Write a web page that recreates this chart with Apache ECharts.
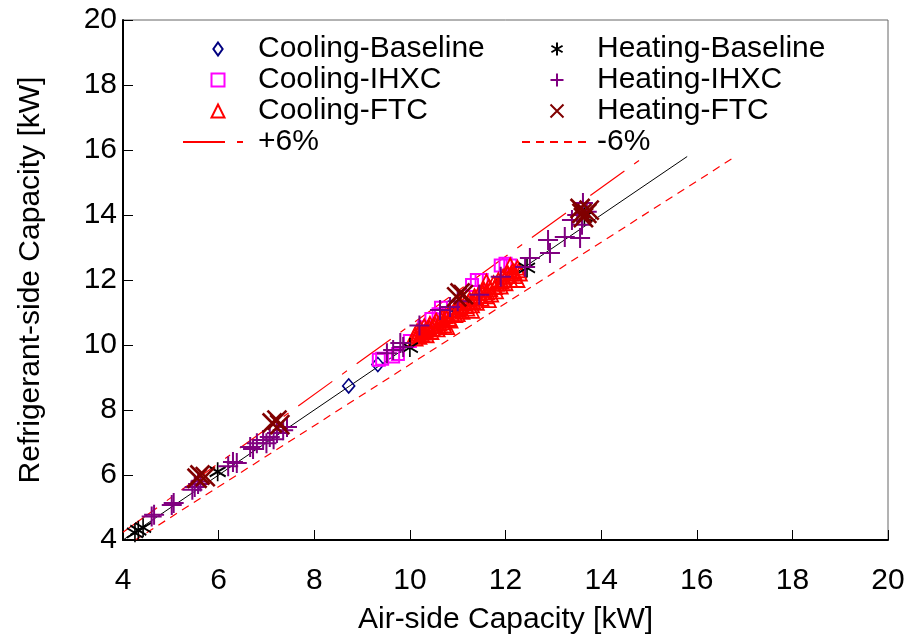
<!DOCTYPE html>
<html>
<head>
<meta charset="utf-8">
<title>Refrigerant-side vs Air-side Capacity</title>
<script src="https://cdn.jsdelivr.net/npm/echarts@6/dist/echarts.min.js"></script>
<style>
  html, body { margin: 0; padding: 0; background: #fff; }
  #chart { width: 911px; height: 641px; }
</style>
</head>
<body>
<div id="chart"></div>
<script>
// Axis range and ticks (kW)
const axisMin = 4;
const axisMax = 20;
const axisStep = 2;

// Tolerance band around the 1:1 line, in percent
const bandPct = 6;

// Extents of the reference lines (x values, kW)
const parityX = [4, 15.8];
const upperBandX = [4, 14.9];
const lowerBandX = [4, 16.8];

// Cooling mode: [air-side, refrigerant-side] kW
const coolingBaseline = [
  [8.72, 8.74], [9.33, 9.40], [10.35, 10.40], [11.0, 11.05], [11.9, 11.95]
];
const coolingIHXC = [
  [9.35, 9.55], [9.42, 9.58], [9.65, 9.65], [9.75, 9.72], [10.0, 10.12],
  [10.3, 10.55], [10.45, 10.8], [10.6, 10.95], [10.65, 11.15], [11.3, 11.85],
  [11.4, 12.0], [11.5, 12.0], [11.9, 12.45], [12.0, 12.5], [12.1, 12.45]
];
const coolingFTC = [
  [10.10, 10.30], [10.15, 10.42], [10.20, 10.25], [10.22, 10.50], [10.28, 10.38],
  [10.30, 10.58], [10.35, 10.30], [10.38, 10.48], [10.42, 10.65], [10.45, 10.40],
  [10.50, 10.58], [10.55, 10.75], [10.58, 10.48], [10.62, 10.66], [10.68, 10.85],
  [10.72, 10.60], [10.78, 10.55], [10.80, 10.92], [10.85, 10.75], [10.92, 11.05],
  [11.00, 10.95], [11.05, 11.15], [11.10, 11.02], [11.15, 11.28], [11.20, 11.12],
  [11.25, 11.40], [11.30, 11.22], [11.35, 11.50], [11.40, 11.30], [11.45, 11.60],
  [11.50, 11.42], [11.55, 11.70], [11.60, 11.50], [11.65, 11.80], [11.70, 11.55],
  [11.75, 11.90], [11.80, 11.65], [11.85, 12.00], [11.90, 11.80], [11.95, 12.10],
  [12.00, 11.90], [12.05, 12.20], [12.10, 12.00], [12.15, 12.28], [12.20, 12.12],
  [12.25, 12.38], [12.30, 12.20], [11.10, 11.45], [11.60, 11.95], [12.10, 12.45],
  [11.65, 11.38], [11.30, 11.05], [12.25, 12.00],
  [10.12, 10.20], [10.18, 10.36], [10.25, 10.33], [10.33, 10.45], [10.40, 10.55],
  [10.48, 10.50], [10.52, 10.66], [10.60, 10.58], [10.65, 10.78], [10.70, 10.70],
  [10.75, 10.88], [10.82, 10.80], [10.88, 10.95], [10.95, 10.92], [11.02, 11.08],
  [11.08, 11.20], [11.18, 11.20], [11.22, 11.32], [11.32, 11.35], [11.38, 11.45],
  [11.48, 11.52], [11.52, 11.62], [11.62, 11.62], [11.68, 11.72], [11.78, 11.78],
  [11.82, 11.88], [11.92, 11.95], [11.98, 12.02], [12.08, 12.12], [12.12, 12.20],
  [12.18, 12.25], [12.28, 12.30]
];

// Heating mode: [air-side, refrigerant-side] kW
const heatingBaseline = [
  [4.25, 4.22], [4.32, 4.30], [4.42, 4.38], [5.98, 6.10], [10.0, 9.92],
  [12.45, 12.37], [13.65, 13.95]
];
const heatingIHXC = [
  [4.60, 4.72], [4.65, 4.78], [5.02, 5.08], [5.06, 5.14], [5.45, 5.55],
  [5.50, 5.63], [5.57, 5.72], [5.62, 5.80], [6.20, 6.27], [6.30, 6.40],
  [6.38, 6.37], [6.66, 6.86], [6.72, 6.80], [6.80, 6.98], [6.93, 7.08],
  [7.00, 6.98], [7.07, 7.17], [7.15, 7.10], [7.22, 7.29], [7.35, 7.38],
  [7.43, 7.48], [9.52, 9.75], [9.65, 9.85], [9.80, 10.06], [9.86, 9.94],
  [10.20, 10.60], [10.63, 11.08], [10.84, 11.17], [11.00, 11.35], [11.45, 11.55],
  [11.90, 12.10], [12.41, 12.40], [12.51, 12.68], [12.89, 13.23], [12.93, 12.83],
  [13.24, 13.32], [13.56, 13.29], [13.39, 13.85], [13.50, 14.00], [13.62, 14.37],
  [13.60, 13.70], [13.70, 14.10]
];
const heatingFTC = [
  [5.55, 5.90], [5.61, 6.00], [5.72, 5.95], [7.12, 7.60], [7.22, 7.69],
  [7.28, 7.55], [10.98, 11.48], [11.05, 11.60], [11.12, 11.55], [13.56, 14.20],
  [13.63, 13.92], [13.70, 14.05], [13.75, 14.15], [13.60, 14.05]
];

const FONT = '"Liberation Sans", Arial, sans-serif';

// Marker shapes
const PLUS = 'path://M5,0V10M0,5H10';
const ASTERISK = 'path://M5,0V10M0.7,2.5L9.3,7.5M9.3,2.5L0.7,7.5';
const CROSS = 'path://M0,0L10,10M10,0L0,10';
const DIAMOND_ICON = 'path://M5,0L10,7L5,14L0,7Z';
const SQUARE_ICON = 'path://M0,0H10V10H0Z';
const TRIANGLE_ICON = 'path://M5,0L10,10H0Z';

const bandLine = (xs, factor) => xs.map(x => [x, x * factor]);

const chart = echarts.init(document.getElementById('chart'), null, { renderer: 'canvas' });

function scatter(name, data, symbol, size, color, width) {
  return {
    name: name,
    type: 'scatter',
    data: data,
    symbol: symbol,
    symbolSize: size,
    itemStyle: { color: 'transparent', borderColor: color, borderWidth: width, opacity: 1 },
    emphasis: { disabled: true },
    animation: false
  };
}

function refLine(name, data, dash, width) {
  return {
    name: name, type: 'line', data: data,
    symbol: 'none', silent: true, z: 1,
    itemStyle: { color: 'transparent' },
    lineStyle: { color: dash ? '#ff0000' : '#000', width: width, type: dash || 'solid' }
  };
}

const legendText = { fontFamily: FONT, fontSize: 30, color: '#000' };

chart.setOption({
  backgroundColor: '#fff',
  animation: false,
  textStyle: { fontFamily: FONT },
  grid: {
    left: 123, right: 23, top: 20, bottom: 101,
    show: true, borderColor: '#666', borderWidth: 1, backgroundColor: 'transparent'
  },
  legend: [
    {
      orient: 'vertical', left: 177, top: 29, itemWidth: 70, itemHeight: 13, itemGap: 1,
      selectedMode: false, textStyle: legendText,
      data: [
        { name: 'Cooling-Baseline', icon: DIAMOND_ICON },
        { name: 'Cooling-IHXC', icon: SQUARE_ICON },
        { name: 'Cooling-FTC', icon: TRIANGLE_ICON },
        { name: '+6%' }
      ]
    },
    {
      orient: 'vertical', left: 516, top: 29, itemWidth: 70, itemHeight: 13, itemGap: 1,
      selectedMode: false, textStyle: legendText,
      data: [
        { name: 'Heating-Baseline', icon: ASTERISK },
        { name: 'Heating-IHXC', icon: PLUS },
        { name: 'Heating-FTC', icon: CROSS },
        { name: '-6%' }
      ]
    }
  ],
  xAxis: {
    type: 'value', min: axisMin, max: axisMax, interval: axisStep,
    name: 'Air-side Capacity [kW]', nameLocation: 'middle', nameGap: 65,
    nameTextStyle: { fontFamily: FONT, fontSize: 30, color: '#000' },
    axisLine: { show: true, onZero: false, lineStyle: { color: '#000', width: 2 } },
    axisTick: { show: true, inside: true, length: 10, lineStyle: { color: '#000', width: 1 } },
    axisLabel: { margin: 26, fontFamily: FONT, fontSize: 30, color: '#000' },
    splitLine: { show: false }
  },
  yAxis: {
    type: 'value', min: axisMin, max: axisMax, interval: axisStep,
    name: 'Refrigerant-side Capacity [kW]', nameLocation: 'middle', nameGap: 77,
    nameTextStyle: { fontFamily: FONT, fontSize: 30, color: '#000' },
    axisLine: { show: true, onZero: false, lineStyle: { color: '#000', width: 2 } },
    axisTick: { show: true, inside: true, length: 10, lineStyle: { color: '#000', width: 1 } },
    axisLabel: { margin: 6, fontFamily: FONT, fontSize: 30, color: '#000' },
    splitLine: { show: false }
  },
  series: [
    refLine('1:1', parityX.map(x => [x, x]), null, 1),
    refLine('+6%', bandLine(upperBandX, 1 + bandPct / 100), [42, 12, 6, 12], 1.2),
    refLine('-6%', bandLine(lowerBandX, 1 - bandPct / 100), [8, 6], 1.2),
    scatter('Cooling-Baseline', coolingBaseline, 'diamond', [12, 14], '#000080', 1.6),
    scatter('Cooling-IHXC', coolingIHXC, 'rect', 12, '#ff00ff', 2),
    scatter('Cooling-FTC', coolingFTC, 'triangle', 14, '#ff0000', 1.8),
    scatter('Heating-Baseline', heatingBaseline, ASTERISK, [16, 19], '#000000', 1.8),
    scatter('Heating-IHXC', heatingIHXC, PLUS, 20, '#800080', 2),
    scatter('Heating-FTC', heatingFTC, CROSS, 19, '#800000', 2.6)
  ]
});
</script>
</body>
</html>
